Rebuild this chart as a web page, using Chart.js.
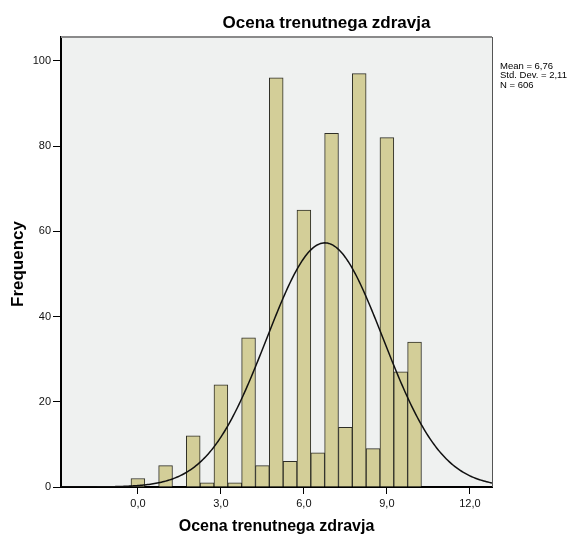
<!DOCTYPE html>
<html>
<head>
<meta charset="utf-8">
<script src="https://cdn.jsdelivr.net/npm/chart.js@4/dist/chart.umd.min.js"></script>
<style>
  html, body { margin: 0; padding: 0; background: #ffffff; }
  #wrap { width: 585px; height: 541px; }
</style>
</head>
<body>
<div id="wrap"><canvas id="c" width="585" height="541"></canvas></div>
<script>
// ---- data ----
const categories  = [0, 1, 2, 2.5, 3, 3.5, 4, 4.5, 5, 5.5, 6, 6.5, 7, 7.5, 8, 8.5, 9, 9.5, 10];
const frequencies = [2, 5, 12, 1, 24, 1, 35, 5, 96, 6, 65, 8, 83, 14, 97, 9, 82, 27, 34];
const xTicks = [0, 3, 6, 9, 12];
const yTicks = [0, 20, 40, 60, 80, 100];
const statLines = ['Mean = 6,76', 'Std. Dev. = 2,11', 'N = 606'];
const mean = 6.76;
const stdDev = 2.11;
const nCases = 606;
const binWidth = 0.5;
const chartTitle = 'Ocena trenutnega zdravja';
const xTitle = 'Ocena trenutnega zdravja';
const yTitle = 'Frequency';

// fitted normal curve (SPSS overlay) from the stated mean / std. dev.
const curveXs = [];
for (let i = 0; i <= 320; i++) curveXs.push(-3 + i * 0.05);
const curve = curveXs.map(x => ({
  x: x,
  y: nCases * binWidth / (stdDev * Math.sqrt(2 * Math.PI)) *
     Math.exp(-0.5 * Math.pow((x - mean) / stdDev, 2))
}));

const FONT = '"Liberation Sans", Arial, sans-serif';

const decor = {
  id: 'decor',
  beforeDraw(chart) {
    const ctx = chart.ctx, a = chart.chartArea;
    ctx.save();
    ctx.fillStyle = '#ffffff';
    ctx.fillRect(0, 0, chart.width, chart.height);
    ctx.fillStyle = '#eff1f0';
    ctx.fillRect(a.left, a.top, a.right - a.left, a.bottom - a.top);
    ctx.restore();
  },
  afterDraw(chart) {
    const ctx = chart.ctx, a = chart.chartArea;
    ctx.save();
    // top and right frame
    ctx.strokeStyle = '#8a8a8a';
    ctx.lineWidth = 2;
    ctx.beginPath();
    ctx.moveTo(a.left, a.top);
    ctx.lineTo(a.right, a.top);
    ctx.stroke();
    ctx.lineWidth = 1;
    ctx.strokeStyle = '#555';
    ctx.beginPath();
    ctx.moveTo(a.right + 0.5, a.top);
    ctx.lineTo(a.right + 0.5, a.bottom);
    ctx.stroke();

    ctx.fillStyle = '#000';
    ctx.textBaseline = 'middle';
    // chart title
    ctx.textAlign = 'center';
    ctx.font = 'bold 17px ' + FONT;
    ctx.fillText(chartTitle, 326.5, 23);
    // x title
    ctx.font = 'bold 16px ' + FONT;
    ctx.fillText(xTitle, (a.left + a.right) / 2, 527);
    // y title
    ctx.save();
    ctx.translate(18, 264);
    ctx.rotate(-Math.PI / 2);
    ctx.font = 'bold 17px ' + FONT;
    ctx.fillText(yTitle, 0, 0);
    ctx.restore();
    // stats box
    ctx.textAlign = 'left';
    ctx.font = '9.5px ' + FONT;
    statLines.forEach((t, i) => ctx.fillText(t, 500, 66 + i * 9.5));
    ctx.restore();
  }
};

new Chart(document.getElementById('c'), {
  type: 'bar',
  data: {
    datasets: [
      {
        type: 'line',
        data: curve,
        borderColor: '#111',
        borderWidth: 1.5,
        pointRadius: 0,
        fill: false,
        tension: 0,
        order: 0
      },
      {
        type: 'bar',
        data: categories.map((c, i) => ({ x: c, y: frequencies[i] })),
        backgroundColor: '#d3ce98',
        borderColor: '#2e2e26',
        borderWidth: 1,
        barPercentage: 1,
        categoryPercentage: 1,
        order: 1
      }
    ]
  },
  options: {
    responsive: false,
    animation: false,
    layout: { padding: { left: 0, top: 37, right: 93, bottom: 0 } },
    plugins: { legend: { display: false }, tooltip: { enabled: false }, title: { display: false } },
    scales: {
      x: {
        type: 'linear',
        min: -2.78,
        max: 12.8,
        offset: false,
        afterFit(s) { s.height = 54; },
        afterBuildTicks(s) { s.ticks = xTicks.map(v => ({ value: v })); },
        grid: { display: true, drawOnChartArea: false, drawTicks: true, tickLength: 7, color: '#000', offset: false },
        border: { display: true, color: '#000', width: 2 },
        ticks: {
          padding: 3,
          color: '#111',
          font: { family: FONT, size: 11 },
          maxRotation: 0,
          callback: v => v.toFixed(1).replace('.', ',')
        }
      },
      y: {
        min: 0,
        max: 105.6,
        afterFit(s) { s.width = 61; },
        afterBuildTicks(s) { s.ticks = yTicks.map(v => ({ value: v })); },
        grid: { display: true, drawOnChartArea: false, drawTicks: true, tickLength: 8, color: '#000' },
        border: { display: true, color: '#000', width: 2 },
        ticks: {
          padding: 2,
          color: '#111',
          font: { family: FONT, size: 11 },
          callback: v => String(v)
        }
      }
    }
  },
  plugins: [decor]
});
</script>
</body>
</html>
